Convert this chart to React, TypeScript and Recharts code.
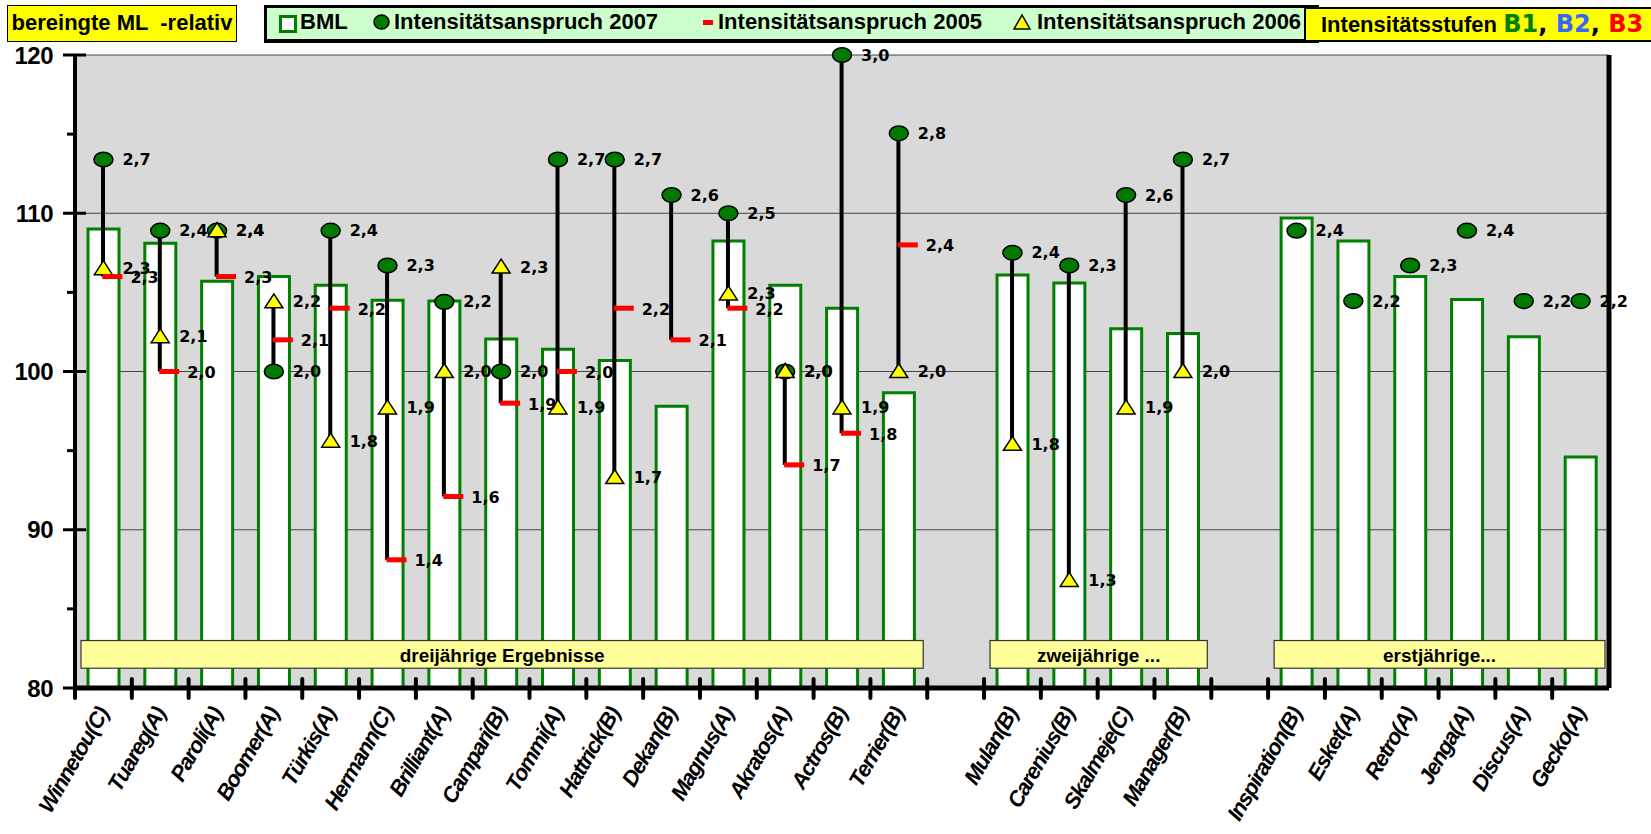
import {
  Bar,
  CartesianGrid,
  ComposedChart,
  ReferenceArea,
  Scatter,
  XAxis,
  YAxis,
} from "recharts";

// categories (blank entries are the gaps between the groups)
const names = [
  "Winnetou(C)", "Tuareg(A)", "Paroli(A)", "Boomer(A)", "Türkis(A)", "Hermann(C)",
  "Brilliant(A)", "Campari(B)", "Tommi(A)", "Hattrick(B)", "Dekan(B)", "Magnus(A)",
  "Akratos(A)", "Actros(B)", "Terrier(B)", " ",
  "Mulan(B)", "Carenius(B)", "Skalmeje(C)", "Manager(B)", "  ",
  "Inspiration(B)", "Esket(A)", "Retro(A)", "Jenga(A)", "Discus(A)", "Gecko(A)",
];

// BML relative
const bml = [
  109.0, 108.1, 105.7, 106.0, 105.45, 104.5, 104.45, 102.05, 101.4, 100.7, 97.8, 108.25,
  105.45, 104.0, 98.65, null,
  106.1, 105.6, 102.7, 102.4, null,
  109.7, 108.25, 106.0, 104.55, 102.2, 94.6,
];

// Intensitätsanspruch 2007 (circle)
const int2007 = [
  113.4, 108.9, 108.9, 100.0, 108.9, 106.7, 104.4, 100.0, 113.4, 113.4, 111.15, 110.0,
  100.0, 120.0, 115.05, null,
  107.5, 106.7, 111.15, 113.4, null,
  108.9, 104.45, 106.7, 108.9, 104.45, 104.45,
];
const lab2007 = [
  "2,7", "2,4", "2,4", "2,0", "2,4", "2,3", "2,2", "2,0", "2,7", "2,7", "2,6", "2,5",
  "2,0", "3,0", "2,8", "",
  "2,4", "2,3", "2,6", "2,7", "",
  "2,4", "2,2", "2,3", "2,4", "2,2", "2,2",
];

// Intensitätsanspruch 2005 (red dash)
const int2005 = [
  106.0, 100.0, 106.0, 102.0, 104.0, 88.1, 92.1, 98.0, 100.0, 104.0, 102.0, 104.0,
  94.1, 96.1, 108.0, null,
  null, null, null, null, null,
  null, null, null, null, null, null,
];
const lab2005 = [
  "2,3", "2,0", "2,3", "2,1", "2,2", "1,4", "1,6", "1,9", "2,0", "2,2", "2,1", "2,2",
  "1,7", "1,8", "2,4", "",
  "", "", "", "", "",
  "", "", "", "", "", "",
];

// Intensitätsanspruch 2006 (triangle)
const int2006 = [
  106.5, 102.2, 108.9, 104.4, 95.6, 97.7, 100.0, 106.6, 97.7, 93.3, null, 104.9,
  100.0, 97.7, 100.0, null,
  95.4, 86.8, 97.7, 100.0, null,
  null, null, null, null, null, null,
];
const lab2006 = [
  "2,3", "2,1", "2,4", "2,2", "1,8", "1,9", "2,0", "2,3", "1,9", "1,7", "", "2,3",
  "2,0", "1,9", "2,0", "",
  "1,8", "1,3", "1,9", "2,0", "",
  "", "", "", "", "", "",
];

const yTicks = [80, 85, 90, 95, 100, 105, 110, 115, 120];
const gridValues = [90, 100, 110, 120];
const stufenTicks = [80, 100, 120];
const stufenLabels = ["B1", "B2", "B3"];
const stufenColors = ["#008000", "#3366ff", "#ff0000"];

const groups = [
  { label: "dreijährige Ergebnisse", from: "Winnetou(C)", to: "Terrier(B)" },
  { label: "zweijährige ...", from: "Mulan(B)", to: "Manager(B)" },
  { label: "erstjährige...", from: "Inspiration(B)", to: "Gecko(A)" },
];

const data = names.map((name, i) => {
  const vals = [int2007[i], int2005[i], int2006[i]].filter((v) => v != null) as number[];
  return {
    name,
    bml: bml[i],
    c07: int2007[i],
    l07: lab2007[i],
    c05: int2005[i],
    l05: lab2005[i],
    c06: int2006[i],
    l06: lab2006[i],
    range: vals.length > 1 ? [Math.min(...vals), Math.max(...vals)] : null,
  };
});

const numStyle = {
  fontFamily: "'DejaVu Sans', Verdana, sans-serif",
  fontWeight: "bold" as const,
  fontSize: 16,
  fill: "#000",
};

const heavy = "'DejaVu Sans', Verdana, sans-serif";

const okPoint = (p: any, key: string) =>
  p && p.payload && p.payload[key] != null && Number.isFinite(p.cx) && Number.isFinite(p.cy);

function CircleMark(p: any) {
  if (!okPoint(p, "c07")) return <g />;
  return (
    <g>
      <ellipse cx={p.cx} cy={p.cy} rx={9.5} ry={7.3} fill="#007a00" stroke="#000" strokeWidth={1.5} />
      <text x={p.cx + 19} y={p.cy} dominantBaseline="central" style={numStyle}>
        {p.payload.l07}
      </text>
    </g>
  );
}

function DashMark(p: any) {
  if (!okPoint(p, "c05")) return <g />;
  return (
    <g>
      <rect x={p.cx - 1} y={p.cy - 2.5} width={20} height={5} fill="#ff0000" />
      <text x={p.cx + 27} y={p.cy + 1} dominantBaseline="central" style={numStyle}>
        {p.payload.l05}
      </text>
    </g>
  );
}

function TriangleMark(p: any) {
  if (!okPoint(p, "c06")) return <g />;
  const { cx, cy } = p;
  return (
    <g>
      <polygon
        points={`${cx},${cy - 8} ${cx - 9},${cy + 6} ${cx + 9},${cy + 6}`}
        fill="#ffff00"
        stroke="#000"
        strokeWidth={1.5}
      />
      <text x={cx + 19} y={cy} dominantBaseline="central" style={numStyle}>
        {p.payload.l06}
      </text>
    </g>
  );
}

function XTick(p: any) {
  const { x, y, payload } = p;
  const half = payload && payload.offset ? payload.offset : 28.4;
  const label = String(payload.value);
  return (
    <g>
      <line x1={x - half} x2={x - half} y1={y - 9} y2={y + 10} stroke="#000" strokeWidth={4} strokeLinecap="round" />
      {label.trim() !== "" && (
        <text
          transform={`translate(${x + 6},${y + 25}) rotate(-60)`}
          textAnchor="end"
          fontFamily="'Liberation Sans', Arial, sans-serif"
          fontWeight="bold"
          fontStyle="italic"
          fontSize={22}
          letterSpacing={-1.2}
          fill="#000"
        >
          {label}
        </text>
      )}
    </g>
  );
}

function YTick(p: any) {
  const { x, y, payload } = p;
  const major = payload.value % 10 === 0;
  return (
    <g>
      {major ? (
        <line x1={x - 12} x2={x + 11} y1={y} y2={y} stroke="#000" strokeWidth={3} />
      ) : (
        <line x1={x - 8} x2={x} y1={y} y2={y} stroke="#000" strokeWidth={3} />
      )}
      {major && (
        <text
          x={x - 22}
          y={y}
          textAnchor="end"
          dominantBaseline="central"
          fontFamily="'Liberation Sans', Arial, sans-serif"
          fontWeight="bold"
          fontSize={24}
          letterSpacing={-0.5}
          fill="#000"
        >
          {payload.value}
        </text>
      )}
    </g>
  );
}

const stufenShift = [-11, 0, 7];

function StufenTick(p: any) {
  const { x, y, payload } = p;
  const i = stufenTicks.indexOf(payload.value);
  if (i < 0) return <g />;
  const cy = y + stufenShift[i];
  return (
    <g>
      <line x1={x - 12} x2={x} y1={y} y2={y} stroke="#000" strokeWidth={4} />
      <rect x={x + 6} y={cy - 19} width={60} height={38} fill="#fff" stroke="#888" strokeWidth={1.5} />
      <text
        x={x + 13}
        y={cy}
        dominantBaseline="central"
        fontFamily={heavy}
        fontWeight="bold"
        fontSize={24}
        fill={stufenColors[i]}
      >
        {stufenLabels[i]}
      </text>
    </g>
  );
}

function GroupBox(p: any) {
  const { x, y, width, height, label } = p;
  return (
    <g>
      <rect x={x + 6} y={y} width={width - 10} height={height} fill="#ffff99" stroke="#333" strokeWidth={1.2} />
      <text
        x={x + 6 + (width - 10) / 2}
        y={y + height / 2 + 1}
        textAnchor="middle"
        dominantBaseline="central"
        fontFamily="'Liberation Sans Narrow', 'Liberation Sans', Arial, sans-serif"
        fontWeight="bold"
        fontSize={19}
        fill="#000"
      >
        {label}
      </text>
    </g>
  );
}

const legendText: React.CSSProperties = {
  position: "absolute",
  top: 9,
  fontFamily: "'Liberation Sans', Arial, sans-serif",
  fontWeight: "bold",
  fontSize: 22,
  lineHeight: "26px",
  whiteSpace: "pre",
  color: "#000",
};

export default function App() {
  return (
    <div
      style={{
        position: "absolute",
        left: 0,
        top: 0,
        width: 1651,
        height: 834,
        overflow: "hidden",
        background: "#fff",
        fontFamily: "'Liberation Sans', Arial, sans-serif",
      }}
    >
      <ComposedChart
        width={1651}
        height={834}
        data={data}
        margin={{ top: 55, right: 0, bottom: 6, left: 15 }}
      >
        <CartesianGrid
          vertical={false}
          horizontalValues={gridValues}
          stroke="#444"
          strokeWidth={1}
          fill="#d9d9d9"
          fillOpacity={1}
        />
        <XAxis
          dataKey="name"
          type="category"
          interval={0}
          tick={(p: any) => <XTick {...p} />}
          tickLine={false}
          tickSize={0}
          tickMargin={0}
          axisLine={{ stroke: "#000", strokeWidth: 5 }}
          height={140}
        />
        <XAxis xAxisId="r" dataKey="name" type="category" hide />
        <YAxis
          domain={[80, 120]}
          ticks={yTicks}
          interval={0}
          width={60}
          tick={(p: any) => <YTick {...p} />}
          tickLine={false}
          tickSize={0}
          tickMargin={0}
          axisLine={{ stroke: "#000", strokeWidth: 4 }}
        />
        <YAxis
          yAxisId="right"
          orientation="right"
          domain={[80, 120]}
          ticks={stufenTicks}
          interval={0}
          width={42}
          tick={(p: any) => <StufenTick {...p} />}
          tickLine={false}
          tickSize={0}
          tickMargin={0}
          axisLine={{ stroke: "#000", strokeWidth: 5 }}
        />
        <Bar
          dataKey="bml"
          barSize={31}
          fill="#fff"
          stroke="#008000"
          strokeWidth={3}
          isAnimationActive={false}
        />
        <Bar
          xAxisId="r"
          dataKey="range"
          barSize={4}
          fill="#000"
          isAnimationActive={false}
        />
        {groups.map((g) => (
          <ReferenceArea
            key={g.label}
            x1={g.from}
            x2={g.to}
            y1={81.25}
            y2={83.0}
            zIndex={700}
            ifOverflow="visible"
            shape={(p: any) => <GroupBox {...p} label={g.label} />}
          />
        ))}
        <Scatter dataKey="c07" shape={(p: any) => <CircleMark {...p} />} isAnimationActive={false} />
        <Scatter dataKey="c06" shape={(p: any) => <TriangleMark {...p} />} isAnimationActive={false} />
        <Scatter dataKey="c05" shape={(p: any) => <DashMark {...p} />} isAnimationActive={false} />
      </ComposedChart>

      {/* title */}
      <div
        style={{
          position: "absolute",
          left: 7,
          top: 5,
          width: 230,
          height: 37,
          boxSizing: "border-box",
          background: "#ffff00",
          border: "1.5px solid #000",
          fontWeight: "bold",
          fontSize: 22,
          lineHeight: "34px",
          textAlign: "center",
          whiteSpace: "pre",
        }}
      >
        bereingte ML  -relativ
      </div>

      {/* legend */}
      <div
        style={{
          position: "absolute",
          left: 264,
          top: 5,
          width: 1055,
          height: 38,
          boxSizing: "border-box",
          background: "#ccffcc",
          borderTop: "3px solid #000",
          borderBottom: "4px solid #000",
          borderLeft: "3px solid #000",
        }}
      />
      <div
        style={{
          position: "absolute",
          left: 279,
          top: 15,
          width: 12,
          height: 12,
          background: "#fff",
          border: "3px solid #008000",
        }}
      />
      <div style={{ ...legendText, left: 300 }}>BML</div>
      <svg style={{ position: "absolute", left: 372, top: 13 }} width={20} height={18}>
        <ellipse cx={9.5} cy={9} rx={7.5} ry={7} fill="#007a00" stroke="#000" strokeWidth={1.5} />
      </svg>
      <div style={{ ...legendText, left: 394 }}>Intensitätsanspruch 2007</div>
      <div style={{ position: "absolute", left: 703, top: 20, width: 10, height: 5, background: "#ff0000" }} />
      <div style={{ ...legendText, left: 718 }}>Intensitätsanspruch 2005</div>
      <svg style={{ position: "absolute", left: 1012, top: 13 }} width={20} height={18}>
        <polygon points="10,2 2,16 18,16" fill="#ffff00" stroke="#000" strokeWidth={1.5} />
      </svg>
      <div style={{ ...legendText, left: 1037 }}>Intensitätsanspruch 2006</div>

      {/* Intensitätsstufen */}
      <div
        style={{
          position: "absolute",
          left: 1304,
          top: 7,
          width: 347,
          height: 35,
          boxSizing: "border-box",
          background: "#ffff00",
          borderTop: "2px solid #000",
          borderBottom: "2px solid #000",
          borderLeft: "2px solid #000",
          paddingLeft: 15,
          fontWeight: "bold",
          fontSize: 22,
          lineHeight: "31px",
          whiteSpace: "pre",
        }}
      >
        Intensitätsstufen{" "}
        <span style={{ color: "#008000", fontFamily: heavy, fontSize: 24 }}>B1</span>
        <span style={{ fontFamily: heavy, fontSize: 24 }}>, </span>
        <span style={{ color: "#3366ff", fontFamily: heavy, fontSize: 24 }}>B2</span>
        <span style={{ fontFamily: heavy, fontSize: 24 }}>, </span>
        <span style={{ color: "#ff0000", fontFamily: heavy, fontSize: 24 }}>B3</span>
      </div>
    </div>
  );
}
